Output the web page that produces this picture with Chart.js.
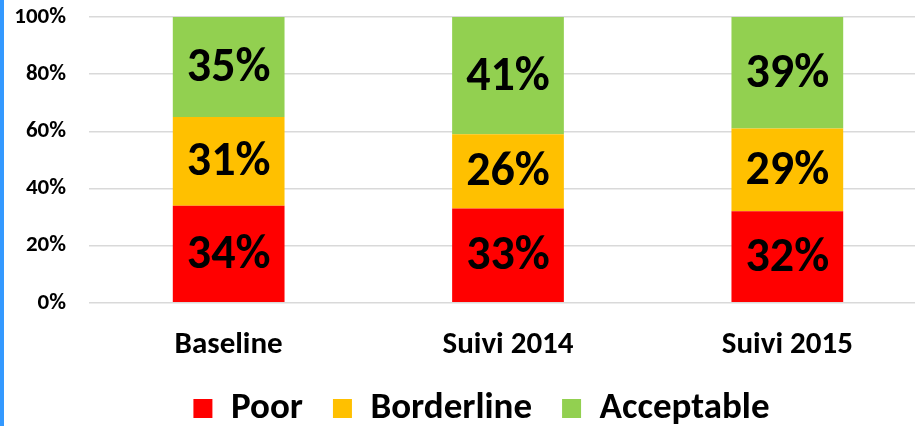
<!DOCTYPE html>
<html>
<head>
<meta charset="utf-8">
<script src="https://cdn.jsdelivr.net/npm/chart.js@4"></script>
<style>
  html, body { margin: 0; padding: 0; background: #fff; overflow: hidden; }
  #wrap { position: relative; width: 915px; height: 426px; overflow: hidden; }
  #edge { position: absolute; left: 0; top: 0; width: 4px; height: 426px; background: #3399ff; z-index: 2; }
  #chart { position: absolute; left: 0; top: 0; }
</style>
</head>
<body>
<div id="wrap">
  <div id="edge"></div>
  <canvas id="chart" width="927" height="426"></canvas>
</div>
<script>
const FONT = "Carlito, Calibri, 'Liberation Sans Narrow', 'Open Sans', sans-serif";

const categories = ["Baseline", "Suivi 2014", "Suivi 2015"];
const poor = [34, 33, 32];
const borderline = [31, 26, 29];
const acceptable = [35, 41, 39];
const yTicks = [0, 20, 40, 60, 80, 100];

// draws the % value in the middle of each segment
const barLabels = {
  id: "barLabels",
  afterDatasetsDraw(chart) {
    const ctx = chart.ctx;
    ctx.save();
    ctx.font = "bold 48px " + FONT;
    ctx.fillStyle = "#000";
    ctx.textAlign = "center";
    ctx.textBaseline = "middle";
    chart.data.datasets.forEach((ds, i) => {
      chart.getDatasetMeta(i).data.forEach((bar, j) => {
        const p = bar.getCenterPoint();
        ctx.fillText(ds.data[j] + "%", p.x, p.y + 2);
      });
    });
    ctx.restore();
  },
};

// legend: a bit right of the canvas centre, and less gap above it
const LEGEND_TRIM = 20;
const legendTweak = {
  id: "legendTweak",
  beforeLayout(chart) {
    const lg = chart.legend;
    if (lg && !lg._trimmed) {
      const fit = lg.fit;
      lg.fit = function () {
        fit.call(this);
        this.height -= LEGEND_TRIM;
      };
      lg._trimmed = true;
    }
  },
  afterLayout(chart) {
    chart.legend.left += 16;
    chart.legend.right += 16;
    chart.legend.top -= LEGEND_TRIM;
  },
};

new Chart(document.getElementById("chart").getContext("2d"), {
  type: "bar",
  data: {
    labels: categories,
    datasets: [
      { label: "Poor", data: poor, backgroundColor: "#ff0000" },
      { label: "Borderline", data: borderline, backgroundColor: "#ffc000" },
      { label: "Acceptable", data: acceptable, backgroundColor: "#92d050" },
    ],
  },
  options: {
    responsive: false,
    animation: false,
    layout: { padding: { left: 4, right: 0, top: 17, bottom: -11 } },
    datasets: { bar: { barPercentage: 0.4, categoryPercentage: 1.0 } },
    plugins: {
      tooltip: { enabled: false },
      legend: {
        position: "bottom",
        labels: {
          color: "#000",
          font: { family: FONT, size: 37, weight: "bold" },
          boxWidth: 19,
          boxHeight: 19,
          padding: 30,
        },
      },
    },
    scales: {
      x: {
        stacked: true,
        grid: { display: false },
        border: { display: false },
        ticks: {
          color: "#000",
          padding: 16,
          font: { family: FONT, size: 31, weight: "bold" },
        },
      },
      y: {
        stacked: true,
        min: 0,
        max: 100,
        afterFit(scale) { scale.width = 85; },
        afterBuildTicks(scale) { scale.ticks = yTicks.map(v => ({ value: v })); },
        grid: { color: "#d9d9d9", lineWidth: 1.5, drawTicks: true, tickLength: 23, tickColor: "rgba(0,0,0,0)" },
        border: { display: false },
        ticks: {
          color: "#000",
          padding: 0,
          font: { family: FONT, size: 23, weight: "bold" },
          callback: v => v + "%",
        },
      },
    },
  },
  plugins: [barLabels, legendTweak],
});
</script>
</body>
</html>
